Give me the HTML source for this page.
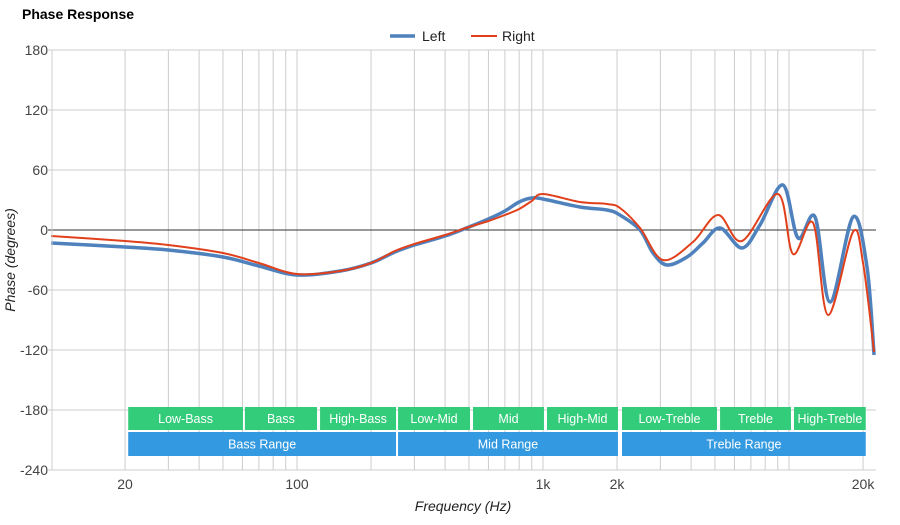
<!DOCTYPE html>
<html><head><meta charset="utf-8"><style>
body{margin:0;background:#fff;font-family:"Liberation Sans",Arial,sans-serif;}
svg text{font-family:"Liberation Sans",Arial,sans-serif;}
</style></head><body>
<svg id="c" width="900" height="520" xmlns="http://www.w3.org/2000/svg">
<text x="22" y="19" font-size="14" font-weight="bold" fill="#000">Phase Response</text>
<g id="grid"></g>
<g id="bands"></g>
<g id="series"></g>
<g id="axes"></g>
<g>
<g><line x1="390" y1="36" x2="415" y2="36" stroke="#4f81bd" stroke-width="3.5"/><text x="422" y="41" font-size="14" fill="#222">Left</text></g>
<g><line x1="471" y1="36" x2="497" y2="36" stroke="#e0401c" stroke-width="2"/><text x="502" y="41" font-size="14" fill="#222">Right</text></g>
</g>
<text transform="translate(15,260) rotate(-90)" text-anchor="middle" font-size="14" font-style="italic" fill="#222">Phase (degrees)</text>
<text x="463" y="511" text-anchor="middle" font-size="14" font-style="italic" fill="#222">Frequency (Hz)</text>
</svg>
<script>
const yTicks=[180,120,60,0,-60,-120,-180,-240];
const xTickVals=[20,100,1000,2000,20000];
const xTickLabels=["20","100","1k","2k","20k"];
const gridFreqs=[20,30,40,50,60,70,80,90,100,200,300,400,500,600,700,800,900,1000,2000,3000,4000,5000,6000,7000,8000,9000,10000,20000];
const bandNames=["Low-Bass","Bass","High-Bass","Low-Mid","Mid","High-Mid","Low-Treble","Treble","High-Treble"];
const bandEdges=[[20.6,60.3],[61.4,120.6],[124.1,252.7],[257.5,505],[519.5,1009],[1038,2017],[2095,5096],[5246,10185],[10480,20510]];
const rangeNames=["Bass Range","Mid Range","Treble Range"];
const rangeEdges=[[20.6,252.7],[257.5,2017],[2095,20510]];
const leftFreq=[10,20,30,50,70,100,150,200,250,300,400,500,600,700,800,900,1000,1413,1820,2055,2480,2800,3190,3850,4470,5250,6440,7620,9450,10880,12760,14690,18200,20750,22170];
const leftPhase=[-13,-17,-20,-27,-36,-45,-41,-33,-22,-15,-6,3,11,19,28,32,31,23,20,15,0,-23,-35,-27,-13,2,-18,5,45,-8,13,-72,13,-37,-125];
const rightFreq=[10,20,30,50,70,100,150,200,250,300,400,500,600,700,800,900,1000,1413,1820,2055,2480,3070,4070,5150,6440,9020,10380,12530,14410,18200,20000,22170];
const rightPhase=[-6,-11,-15,-23,-33,-44,-41,-33,-21,-14,-5,3,9,15,21,29,36,28,26,22,2,-30,-12,15,-11,36,-24,7,-85,-2,-33,-122];
const NS="http://www.w3.org/2000/svg";
const X0=52,X1=876,Y0=50,Y1=470;
function xs(f){return 543+(Math.log10(f)-3)*246;}
function ys(v){return 230-v;}
function mk(tag,attrs,parent){const e=document.createElementNS(NS,tag);for(const k in attrs)e.setAttribute(k,attrs[k]);parent.appendChild(e);return e;}
const grid=document.getElementById('grid'),axes=document.getElementById('axes'),bands=document.getElementById('bands'),series=document.getElementById('series');
gridFreqs.forEach(f=>{const l=mk('line',{x1:xs(f),x2:xs(f),y1:Y0,y2:Y1,stroke:'#ccc','stroke-width':1},grid);

});
yTicks.forEach(v=>{const l=mk('line',{x1:X0-4,x2:X1,y1:ys(v),y2:ys(v),stroke:v===0?'#333':'#ccc','stroke-width':1},grid);


const t=mk('text',{x:X0-4,y:ys(v)+5,'text-anchor':'end','font-size':14,fill:'#444'},axes);t.textContent=String(v);

});
const ax=mk('line',{x1:X0,x2:X0,y1:Y0,y2:Y1,stroke:'#ccc'},axes);


xTickVals.forEach((f,i)=>{const t=mk('text',{x:xs(f),y:489,'text-anchor':'middle','font-size':14,fill:'#444'},axes);t.textContent=xTickLabels[i];

});
function band(edges,name,y,h,color,dn){const x1=xs(edges[0]),x2=xs(edges[1]);
const g=mk('g',{},bands);


mk('rect',{x:x1,y:y,width:x2-x1,height:h,fill:color},g);
const t=mk('text',{x:(x1+x2)/2,y:y+h/2+4.5,'text-anchor':'middle','font-size':12.5,fill:'#fff'},g);t.textContent=name;}
bandNames.forEach((n,i)=>band(bandEdges[i],n,407,23,'#33cc7a','band-'+n.toLowerCase()));
rangeNames.forEach((n,i)=>band(rangeEdges[i],n,432,24,'#3399e0','range-'+n.toLowerCase().replace(' ','-')));
function path(fr,ph){const p=fr.map((f,i)=>[xs(f),ys(ph[i])]);let d='M'+p[0][0]+','+p[0][1];
for(let i=0;i<p.length-1;i++){const a=p[Math.max(0,i-1)],b=p[i],c=p[i+1],e=p[Math.min(p.length-1,i+2)];
const c1=[b[0]+(c[0]-a[0])/6,b[1]+(c[1]-a[1])/6],c2=[c[0]-(e[0]-b[0])/6,c[1]-(e[1]-b[1])/6];
d+=' C'+c1+' '+c2+' '+c;}return d;}
const pl=mk('path',{d:path(leftFreq,leftPhase),fill:'none',stroke:'#4f81bd','stroke-width':3.5,'stroke-linejoin':'round'},series);


const pr=mk('path',{d:path(rightFreq,rightPhase),fill:'none',stroke:'#e0401c','stroke-width':2,'stroke-linejoin':'round'},series);


</script>
</body></html>
